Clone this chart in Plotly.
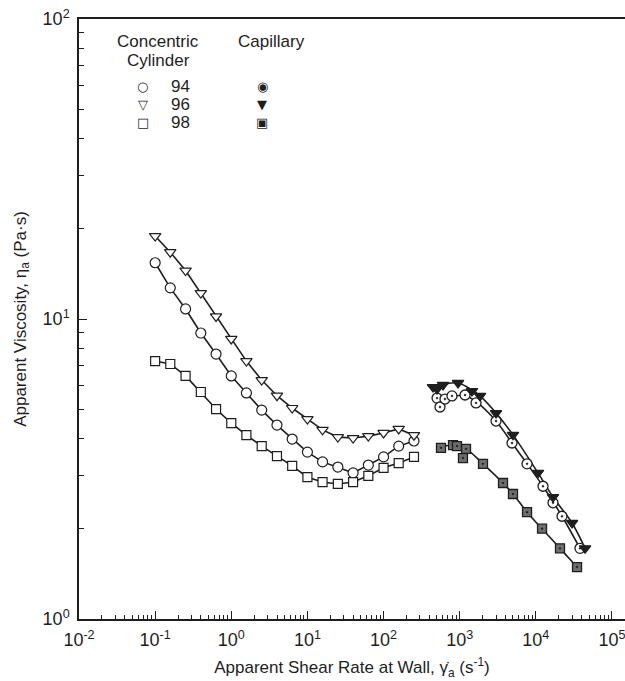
import plotly.graph_objects as go

# ---------------- data ----------------
cc_shear = [0.1, 0.158, 0.251, 0.398, 0.631, 1.0, 1.58, 2.51, 3.98, 6.31,
            10.0, 15.8, 25.1, 39.8, 63.1, 100.0, 158.0, 251.0]
cc_94 = [15.4, 12.7, 10.8, 8.98, 7.64, 6.46, 5.67, 4.97, 4.43, 3.98,
         3.60, 3.34, 3.21, 3.07, 3.26, 3.47, 3.77, 3.92]
cc_96 = [18.9, 16.7, 14.5, 12.2, 10.2, 8.58, 7.24, 6.26, 5.55, 5.05,
         4.64, 4.27, 4.04, 4.01, 4.07, 4.17, 4.30, 4.10]
cc_98 = [7.24, 7.08, 6.46, 5.71, 5.01, 4.50, 4.10, 3.77, 3.49, 3.24,
         2.97, 2.86, 2.82, 2.86, 3.00, 3.19, 3.31, 3.47]

cap94_shear = [504, 551, 641, 792, 1175, 1638, 3000, 4864, 7660, 12420, 16800, 22060, 38000]
cap94_visc = [5.45, 5.09, 5.41, 5.54, 5.58, 5.25, 4.57, 3.86, 3.29, 2.77, 2.44, 2.20, 1.72]

cap96_shear = [446, 504, 604, 951, 1449, 1849, 3000, 5010, 10670, 16800, 29900, 44300]
cap96_visc = [5.93, 5.84, 6.03, 6.12, 5.75, 5.54, 4.86, 4.11, 3.07, 2.55, 2.09, 1.72]

cap98_shear = [568, 817, 921, 1104, 1210, 2023, 3705, 5010, 7660, 12060, 20760, 34740]
cap98_visc = [3.72, 3.80, 3.77, 3.44, 3.69, 3.29, 2.84, 2.61, 2.27, 2.00, 1.72, 1.49]

# smooth fitted curves drawn through the capillary data
cap94_fit_x = [504, 792, 1175, 1638, 3000, 4864, 7660, 12420, 22060, 38000]
cap94_fit_y = [5.40, 5.52, 5.56, 5.30, 4.57, 3.86, 3.29, 2.77, 2.20, 1.72]
cap96_fit_x = [446, 604, 951, 1449, 1849, 3000, 5010, 10670, 16800, 29900, 44300]
cap96_fit_y = [5.93, 6.05, 6.12, 5.80, 5.54, 4.86, 4.11, 3.07, 2.55, 2.09, 1.72]
cap98_fit_x = [568, 817, 1210, 2023, 3705, 5010, 7660, 12060, 20760, 34740]
cap98_fit_y = [3.74, 3.80, 3.69, 3.29, 2.84, 2.61, 2.27, 2.00, 1.72, 1.49]

x_major = [0.01, 0.1, 1, 10, 100, 1000, 10000, 100000]
x_major_text = ["10<sup>-2</sup>", "10<sup>-1</sup>", "10<sup>0</sup>", "10<sup>1</sup>",
                "10<sup>2</sup>", "10<sup>3</sup>", "10<sup>4</sup>", "10<sup>5</sup>"]
y_major = [1, 10, 100]
y_major_text = ["10<sup>0</sup>", "10<sup>1</sup>", "10<sup>2</sup>"]

# ---------------- figure ----------------
INK = "#1e1e1e"
fig = go.Figure()

def line_trace(x, y, shape="linear"):
    fig.add_trace(go.Scatter(x=x, y=y, mode="lines", showlegend=False,
                             line=dict(color=INK, width=1.6, shape=shape, smoothing=0.9),
                             hoverinfo="skip"))

def mark_trace(x, y, symbol, size, fill="white", lw=1.2):
    fig.add_trace(go.Scatter(x=x, y=y, mode="markers", showlegend=False,
                             marker=dict(symbol=symbol, size=size, color=fill,
                                         line=dict(color=INK, width=lw))))

# concentric cylinder
for yy in (cc_94, cc_96, cc_98):
    line_trace(cc_shear, yy)
mark_trace(cc_shear, cc_94, "circle", 10)
mark_trace(cc_shear, cc_96, "triangle-down", 10)
mark_trace(cc_shear, cc_98, "square", 9)

# capillary
line_trace(cap94_fit_x, cap94_fit_y, "spline")
line_trace(cap96_fit_x, cap96_fit_y, "spline")
line_trace(cap98_fit_x, cap98_fit_y, "spline")
mark_trace(cap94_shear, cap94_visc, "circle-dot", 10, fill="white", lw=1.3)
mark_trace(cap96_shear, cap96_visc, "triangle-down", 10, fill=INK)
mark_trace(cap98_shear, cap98_visc, "square-dot", 9, fill="#6e6e6e", lw=1.3)

minor_x = [m * 10 ** k for k in range(-2, 5) for m in range(2, 10)]
minor_y = [m * 10 ** k for k in range(0, 2) for m in range(2, 10)]

FONT = "Liberation Sans, Arial, sans-serif"
fig.update_layout(
    width=625, height=681,
    margin=dict(l=79, r=0, t=19, b=62),
    paper_bgcolor="white", plot_bgcolor="white",
    font=dict(family=FONT, size=17, color=INK),
    xaxis=dict(type="log", range=[-2, 5.171], showgrid=False, zeroline=False,
               showline=True, linecolor=INK, linewidth=1.5, mirror=True,
               ticks="inside", ticklen=8, tickwidth=1.2, tickcolor=INK,
               tickvals=x_major, ticktext=x_major_text,
               tickfont=dict(size=18), ticklabelstandoff=4,
               ticklabeloverflow="allow",
               minor=dict(tickvals=minor_x, ticks="inside", ticklen=4,
                          tickwidth=1, tickcolor=INK, showgrid=False),
               title=dict(text="Apparent Shear Rate at Wall, γ̇<sub>a</sub> (s<sup>-1</sup>)",
                          font=dict(size=17), standoff=12)),
    yaxis=dict(type="log", range=[0, 2], showgrid=False, zeroline=False,
               showline=True, linecolor=INK, linewidth=1.5, mirror=False,
               ticks="inside", ticklen=8, tickwidth=1.2, tickcolor=INK,
               tickvals=y_major, ticktext=y_major_text,
               tickfont=dict(size=18), ticklabelstandoff=4,
               minor=dict(tickvals=minor_y, ticks="inside", ticklen=5,
                          tickwidth=1, tickcolor=INK, showgrid=False),
               title=dict(text="Apparent Viscosity, η<sub>a</sub> (Pa·s)",
                          font=dict(size=17), standoff=12)),
)

# legend block built from text
def ann(x, y, text, size=17, family=FONT):
    fig.add_annotation(x=x, y=y, xref="paper", yref="paper", text=text,
                       showarrow=False, xanchor="center", yanchor="middle",
                       font=dict(size=size, color=INK, family=family))

ann(0.145, 0.963, "Concentric")
ann(0.145, 0.930, "Cylinder")
ann(0.352, 0.963, "Capillary")
GLYPH = "DejaVu Sans"
rows = [("94", 0.888, "○", "◉"), ("96", 0.858, "▽", "▼"), ("98", 0.827, "□", "▣")]
for label, yy, s_open, s_cap in rows:
    ann(0.117, yy, s_open, size=13, family=GLYPH)
    ann(0.185, yy, label, size=17)
    ann(0.336, yy, s_cap, size=13, family=GLYPH)

fig.write_html("out.html")
